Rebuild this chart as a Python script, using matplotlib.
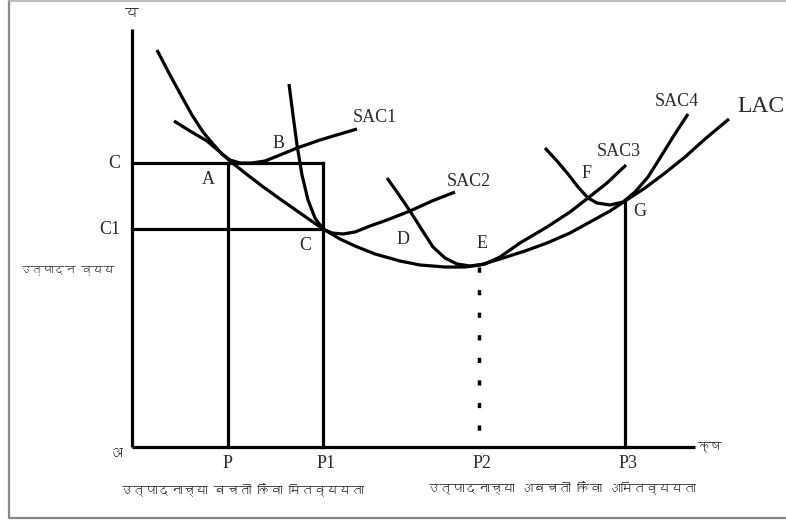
import matplotlib
matplotlib.use("Agg")
from matplotlib import pyplot as plt
from matplotlib import font_manager as fm
from matplotlib.ft2font import FT2Font

# curves, in pixel coords (x right, y down)
sac1_x = [157, 170, 182, 192, 203, 213, 222, 230, 240, 252, 265, 280, 297, 320, 340, 357]
sac1_y = [50, 75, 97, 115, 132, 144, 154, 160, 163, 163, 161, 155, 148, 140, 134, 129]

sac2_x = [289, 293, 297, 302, 308, 315, 323, 332, 343, 355, 370, 387, 410, 432, 455]
sac2_y = [84, 115, 145, 175, 200, 218, 229, 233, 234, 232, 226, 220, 211, 201, 192]

sac3_x = [387, 397, 410, 422, 433, 445, 457, 470, 485, 500, 520, 547, 570, 588, 607, 626]
sac3_y = [178, 192, 211, 230, 247, 258, 264, 266, 264, 257, 243, 227, 212, 198, 183, 165]

sac4_x = [545, 557, 568, 578, 588, 597, 610, 623, 635, 648, 660, 673, 688]
sac4_y = [148, 161, 174, 187, 198, 203, 205, 202, 192, 177, 158, 137, 114]

lac_x = [174, 190, 207, 220, 230, 245, 262, 280, 300, 323, 340, 355, 375, 400, 420,
         445, 465, 480, 500, 525, 547, 570, 590, 610, 625, 645, 665, 685, 705, 729]
lac_y = [121, 131, 141, 152, 161, 173, 186, 199, 213, 229, 239, 246, 254, 261, 265,
         267, 267, 265, 259, 251, 243, 233, 222, 211, 201, 188, 173, 157, 139, 119]

# axes and guide lines
origin = (132, 447)
y_top = 29
x_end = 695
cost_levels = [163, 229]          # C, C1
cost_names = ["C", "C1"]
qty_x = [228, 323, 479, 625]      # P, P1, P2, P3
qty_names = ["P", "P1", "P2", "P3"]
qty_top = [163, 163, 267, 201]

point_names = ["A", "B", "C", "D", "E", "F", "G"]
point_x = [208, 279, 305, 403, 482, 587, 640]
point_y = [180, 143, 246, 239, 244, 173, 212]

curve_names = ["SAC1", "SAC2", "SAC3", "SAC4"]
curve_lx = [353, 447, 597, 655]
curve_ly = [118, 182, 152, 102]

y_title = "उत्पादन व्यय"
left_note = "उत्पादनाच्या बचती किंवा मितव्ययता"
right_note = "उत्पादनाच्या अबचती किंवा अमितव्ययता"

# find a font that has Devanagari glyphs, if any
deva = None
for f in fm.fontManager.ttflist:
    try:
        if 0x0915 in FT2Font(f.fname).get_charmap():
            deva = f.name
            break
    except Exception:
        pass
deva_fam = [deva, "DejaVu Sans"] if deva else ["DejaVu Sans"]

fig = plt.figure(figsize=(7.86, 5.21), dpi=100)
ax = fig.add_axes([0, 0, 1, 1])
ax.set_xlim(0, 786)
ax.set_ylim(521, 0)
ax.axis("off")

# frame
ax.plot([9, 9, 800], [1, 518, 518], color="#8a8a8a", lw=1.6)
ax.plot([9, 800], [1, 1], color="#b0b0b0", lw=1.2)

lw = 2.3
k = "black"
ax.plot([origin[0], origin[0]], [y_top, origin[1]], color=k, lw=lw, solid_capstyle="butt")
ax.plot([origin[0], x_end], [origin[1], origin[1]], color=k, lw=lw, solid_capstyle="butt")

for yv in cost_levels:
    ax.plot([origin[0], qty_x[1]], [yv, yv], color=k, lw=lw)
for i, xv in enumerate(qty_x):
    if i == 2:
        ax.plot([xv, xv], [qty_top[i], origin[1]], color=k, lw=2.5,
                dashes=(1.5, 5), solid_capstyle="butt")
    else:
        ax.plot([xv, xv], [qty_top[i], origin[1]], color=k, lw=lw)

for cx, cy in [(sac1_x, sac1_y), (sac2_x, sac2_y), (sac3_x, sac3_y),
               (sac4_x, sac4_y), (lac_x, lac_y)]:
    ax.plot(cx, cy, color=k, lw=lw, solid_joinstyle="round", solid_capstyle="butt")

serif = "Liberation Serif"
tc = "#2a2a2a"
for n, yv in zip(cost_names, cost_levels):
    ax.text(origin[0] - 12, yv, n, ha="right", va="center", family=serif, fontsize=13, color=tc)
for n, xv in zip(qty_names, qty_x):
    ax.text(xv + (3 if n != "P" else 0), 463, n, ha="center", va="center",
            family=serif, fontsize=13, color=tc)
for n, xv, yv in zip(point_names, point_x, point_y):
    ax.text(xv, yv, n, ha="center", va="center", family=serif, fontsize=13, color=tc)
for n, xv, yv in zip(curve_names, curve_lx, curve_ly):
    ax.text(xv, yv, n, ha="left", va="center", family=serif, fontsize=13, color=tc)
ax.text(737, 107, "LAC", ha="left", va="center", family=serif, fontsize=17, color=tc)

dk = dict(family=deva_fam, color=tc, fontweight="bold", va="center")
ax.text(132, 14, "य", ha="center", fontsize=10, **dk)
ax.text(116, 454, "अ", ha="center", fontsize=10, **dk)
ax.text(698, 447, "क्ष", ha="left", fontsize=9, **dk)
ax.text(67, 270, y_title, ha="center", fontsize=8, **dk)
ax.text(242, 490, left_note, ha="center", fontsize=9, **dk)
ax.text(561, 488, right_note, ha="center", fontsize=9, **dk)

fig.savefig("out.png", dpi=100)
